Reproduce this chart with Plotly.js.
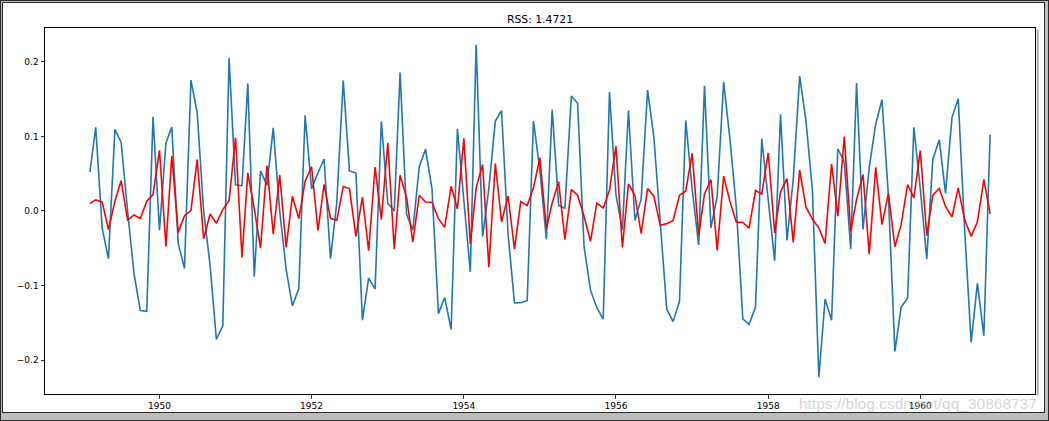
<!DOCTYPE html>
<html>
<head>
<meta charset="utf-8">
<script src="https://cdn.plot.ly/plotly-3.0.1.min.js"></script>
<style>
  html, body { margin: 0; padding: 0; width: 1049px; height: 421px; background: #bdbdbd; overflow: hidden; }
  #outer { position: absolute; left: 0; top: 0; width: 1047px; height: 419px; border: 1px solid #2b2b2b; }
  #inner { position: absolute; left: 1px; top: 1px; width: 1041px; height: 409px; border: 1px solid #2b2b2b; background: #ffffff; }
  #chart { position: absolute; left: 0; top: 0; width: 1041px; height: 409px; }
</style>
</head>
<body>
<div id="outer"><div id="inner"><div id="chart"></div></div></div>
<script>
// Monthly series start (first differenced month) and values
const startYear = 1949;
const startMonth = 2;   // February 1949

// Blue: log-differenced series (ts_log_diff)
const logDiff = [
  0.0522, 0.1121, -0.0230, -0.0640, 0.1095, 0.0919, 0.0000, -0.0846, -0.1335, -0.1347, 0.1263,
  -0.0258, 0.0914, 0.1125, -0.0435, -0.0770, 0.1756, 0.1319, 0.0000, -0.0732, -0.1722, -0.1542, 0.2054,
  0.0351, 0.0339, 0.1711, -0.0880, 0.0537, 0.0343, 0.1115, 0.0000, -0.0784, -0.1273, -0.1040, 0.1284,
  0.0297, 0.0513, 0.0697, -0.0642, 0.0110, 0.1750, 0.0536, 0.0509, -0.1466, -0.0901, -0.1048, 0.1204,
  0.0103, 0.0000, 0.1857, -0.0042, -0.0259, 0.0593, 0.0829, 0.0299, -0.1377, -0.1162, -0.1589, 0.1103,
  0.0148, -0.0817, 0.2231, -0.0346, 0.0304, 0.1206, 0.1345, -0.0303, -0.1233, -0.1231, -0.1205, 0.1205,
  0.0552, -0.0379, 0.1362, 0.0075, 0.0037, 0.1542, 0.1446, -0.0478, -0.1063, -0.1299, -0.1451, 0.1596,
  0.0214, -0.0250, 0.1349, -0.0127, 0.0158, 0.1622, 0.0992, -0.0196, -0.1318, -0.1485, -0.1215, 0.1215,
  0.0290, -0.0455, 0.1678, -0.0227, 0.0199, 0.1729, 0.0970, 0.0043, -0.1449, -0.1521, -0.1290, 0.0968,
  0.0118, -0.0669, 0.1296, -0.0394, 0.0422, 0.1809, 0.1211, 0.0281, -0.2231, -0.1181, -0.1468, 0.0835,
  0.0660, -0.0513, 0.1715, -0.0249, 0.0588, 0.1167, 0.1493, 0.0199, -0.1884, -0.1289, -0.1172, 0.1122,
  0.0292, -0.0644, 0.0692, 0.0955, 0.0236, 0.1253, 0.1507, -0.0261, -0.1764, -0.0971, -0.1673, 0.1023
];

// Red: fitted values of the model
const fitted = [
  0.0099, 0.0148, 0.0122, -0.0251, 0.0130, 0.0408, -0.0121, -0.0054, -0.0103, 0.0131, 0.0220,
  0.0812, -0.0475, 0.0741, -0.0287, -0.0063, 0.0005, 0.0691, -0.0372, -0.0041, -0.0166, 0.0018, 0.0140,
  0.0983, -0.0623, 0.0512, 0.0030, -0.0498, 0.0610, -0.0310, 0.0480, -0.0489, 0.0198, -0.0103, 0.0400,
  0.0593, -0.0265, 0.0355, -0.0103, -0.0125, 0.0328, 0.0301, -0.0341, 0.0184, -0.0534, 0.0588, -0.0117,
  0.0916, -0.0512, 0.0480, 0.0184, -0.0418, 0.0211, 0.0121, 0.0116, -0.0103, -0.0220, 0.0332, 0.0027,
  0.0974, -0.0444, 0.0310, 0.0624, -0.0753, 0.0637, -0.0148, 0.0202, -0.0511, 0.0126, 0.0072, 0.0310,
  0.0714, -0.0242, 0.0108, 0.0391, -0.0385, 0.0287, 0.0211, -0.0071, -0.0408, 0.0104, 0.0041, 0.0278,
  0.0871, -0.0490, 0.0363, 0.0211, -0.0305, 0.0301, 0.0198, -0.0193, -0.0170, -0.0130, 0.0211, 0.0265,
  0.0772, -0.0328, 0.0229, 0.0422, -0.0529, 0.0467, 0.0130, -0.0150, -0.0155, -0.0229, 0.0274, 0.0229,
  0.0781, -0.0296, 0.0256, 0.0435, -0.0422, 0.0548, 0.0054, -0.0108, -0.0229, -0.0435, 0.0633, -0.0071,
  0.0997, -0.0274, 0.0153, 0.0489, -0.0579, 0.0584, -0.0184, 0.0238, -0.0480, -0.0184, 0.0355, 0.0175,
  0.0812, -0.0332, 0.0211, 0.0301, 0.0060, -0.0081, 0.0310, -0.0117, -0.0341, -0.0145, 0.0422, -0.0040
];

const rssText = 'RSS: 1.4721';
const xTickVals = ['1950-01-01', '1952-01-01', '1954-01-01', '1956-01-01', '1958-01-01', '1960-01-01'];
const xTickText = ['1950', '1952', '1954', '1956', '1958', '1960'];
const yTickVals = [-0.2, -0.1, 0.0, 0.1, 0.2];
const yTickText = ['\u22120.2', '\u22120.1', '0.0', '0.1', '0.2'];
const watermark = 'https://blog.csdn.net/qq_30868737';

// Month labels for each observation
const dates = [];
for (let i = 0; i < logDiff.length; i++) {
  const k = (startMonth - 1) + i;
  const y = startYear + Math.floor(k / 12);
  const m = (k % 12) + 1;
  dates.push(y + '-' + String(m).padStart(2, '0') + '-01');
}

const traces = [
  { x: dates, y: logDiff, type: 'scatter', mode: 'lines',
    line: { color: '#1f77b4', width: 1.6 }, hoverinfo: 'skip' },
  { x: dates, y: fitted, type: 'scatter', mode: 'lines',
    line: { color: '#ff0000', width: 1.6 }, hoverinfo: 'skip' }
];

const tickFont = { family: 'DejaVu Sans', size: 9, color: '#000000' };

const layout = {
  width: 1041, height: 409,
  margin: { l: 42, r: 9, t: 25, b: 18, pad: 0 },
  paper_bgcolor: '#ffffff', plot_bgcolor: '#ffffff',
  showlegend: false,
  title: { text: rssText, x: 0.5, xref: 'paper', xanchor: 'center',
           y: 1 - (16.5 / 409), yref: 'container', yanchor: 'middle',
           font: { family: 'DejaVu Sans', size: 10.8, color: '#000000' } },
  xaxis: {
    type: 'date', range: ['1948-06-30 12:00', '1961-07-04 12:00'],
    tickmode: 'array', tickvals: xTickVals, ticktext: xTickText,
    showgrid: false, zeroline: false, showline: true, mirror: true,
    linecolor: '#000000', linewidth: 1,
    ticks: 'outside', ticklen: 3.5, tickwidth: 0.8, tickcolor: '#000000',
    tickfont: tickFont
  },
  yaxis: {
    range: [-0.2456, 0.2455],
    tickmode: 'array', tickvals: yTickVals, ticktext: yTickText,
    showgrid: false, zeroline: false, showline: true, mirror: true,
    linecolor: '#000000', linewidth: 1,
    ticks: 'outside', ticklen: 3.5, tickwidth: 0.8, tickcolor: '#000000',
    tickfont: tickFont
  },
  shapes: [
    { type: 'line', xref: 'paper', yref: 'paper', x0: 1.0027, x1: 1.0027, y0: -0.004, y1: 0.997,
      line: { color: '#b0b0b0', width: 2 } }
  ],
  annotations: [
    { text: watermark, xref: 'paper', yref: 'paper', x: 1.004, y: -0.026,
      xanchor: 'right', yanchor: 'middle', showarrow: false,
      font: { family: 'Liberation Sans', size: 15.5, color: 'rgba(200,200,200,0.75)' } }
  ]
};

Plotly.newPlot('chart', traces, layout, { displayModeBar: false, staticPlot: true });
</script>
</body>
</html>
